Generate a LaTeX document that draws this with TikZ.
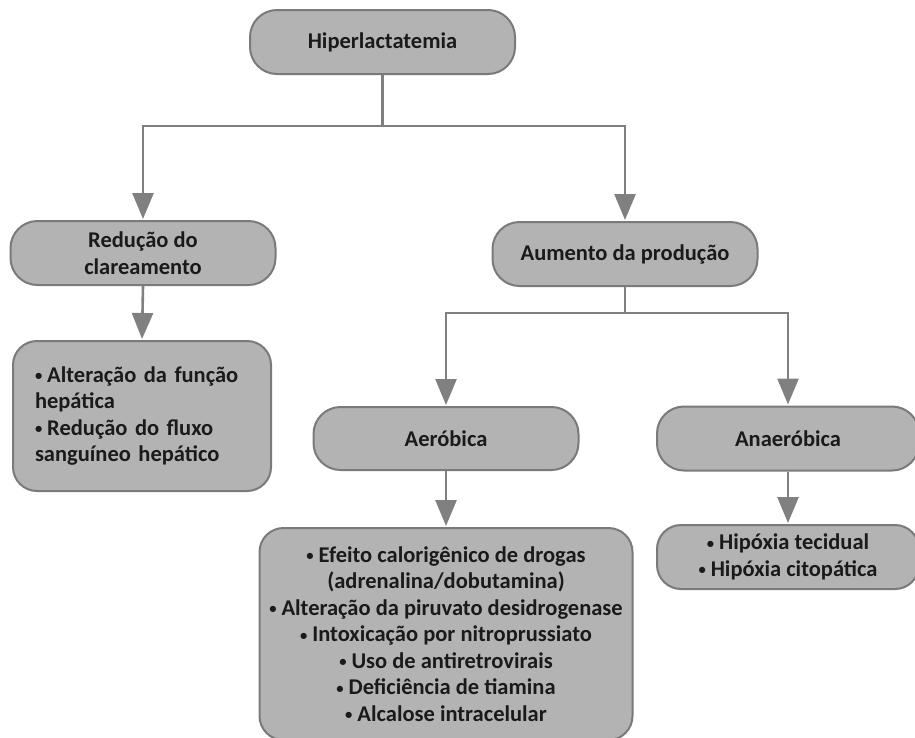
\documentclass[tikz,border=0pt]{standalone}
\usepackage{fontspec}
\setmainfont{Carlito}
\usetikzlibrary{arrows.meta}
\definecolor{boxfill}{HTML}{B3B3B3}
\definecolor{boxline}{HTML}{7A7A7A}
\definecolor{conn}{HTML}{808080}
\definecolor{txt}{HTML}{1A1A1A}
\newcommand{\bul}{\raisebox{0.15ex}{\scalebox{0.65}{•}}\hspace{0.22em}}
\begin{document}
\begin{tikzpicture}[x=1pt,y=1pt,
  box/.style={draw=boxline, fill=boxfill, line width=2pt, rounded corners=27pt,
    minimum width=265pt, minimum height=64pt, inner sep=0pt,
    font=\fontsize{22.5}{26.5}\selectfont\bfseries, text=txt, align=center},
  listbox/.style={box, rounded corners=24pt},
  line/.style={draw=conn, line width=2.6pt},
  arr/.style={line, -{Triangle[length=26pt,width=21pt]}, shorten >=1pt}
]
\useasboundingbox (0,0) rectangle (915,-737);
\begin{scope}
\clip (0,0) rectangle (915,-737);
\node[box] (top) at (382.5,-42) {Hiperlactatemia};
\node[box] (red) at (143,-253) {Redução do\\clareamento};
\node[box] (aum) at (625,-254) {Aumento da produção};
\node[listbox, minimum width=258pt, minimum height=150pt, align=left, text width=214pt, inner xsep=22pt] (redlist) at (142,-416)
  {\bul Alteração da função\\hepática\\\bul Redução do fluxo\\sanguíneo hepático};
\node[box, minimum height=63pt] (aer) at (446,-438.5) {Aeróbica};
\node[box, minimum width=262pt] (ana) at (788,-438.5) {Anaeróbica};
\node[listbox, minimum width=373pt, minimum height=212pt] (aerlist) at (446,-634)
  {\bul Efeito calorigênico de drogas\\(adrenalina/dobutamina)\\\bul Alteração da piruvato desidrogenase\\\bul Intoxicação por nitroprussiato\\\bul Uso de antiretrovirais\\\bul Deficiência de tiamina\\\bul Alcalose intracelular};
\node[listbox, minimum width=262pt] (analist) at (788,-557) {\bul Hipóxia tecidual\\\bul Hipóxia citopática};
\end{scope}
\coordinate (j1) at (382.5,-126);
\coordinate (j2) at (625,-313);
\draw[line] (top.south) -- (j1);
\draw[arr] (j1) -| (red.north);
\draw[arr] (j1) -| (aum.north);
\draw[arr] (red.south) -- (redlist.north);
\draw[line] (aum.south) -- (j2);
\draw[arr] (j2) -| (aer.north);
\draw[arr] (j2) -| (ana.north);
\draw[arr] (aer.south) -- (aerlist.north);
\draw[arr] (ana.south) -- (analist.north);
\end{tikzpicture}
\end{document}
